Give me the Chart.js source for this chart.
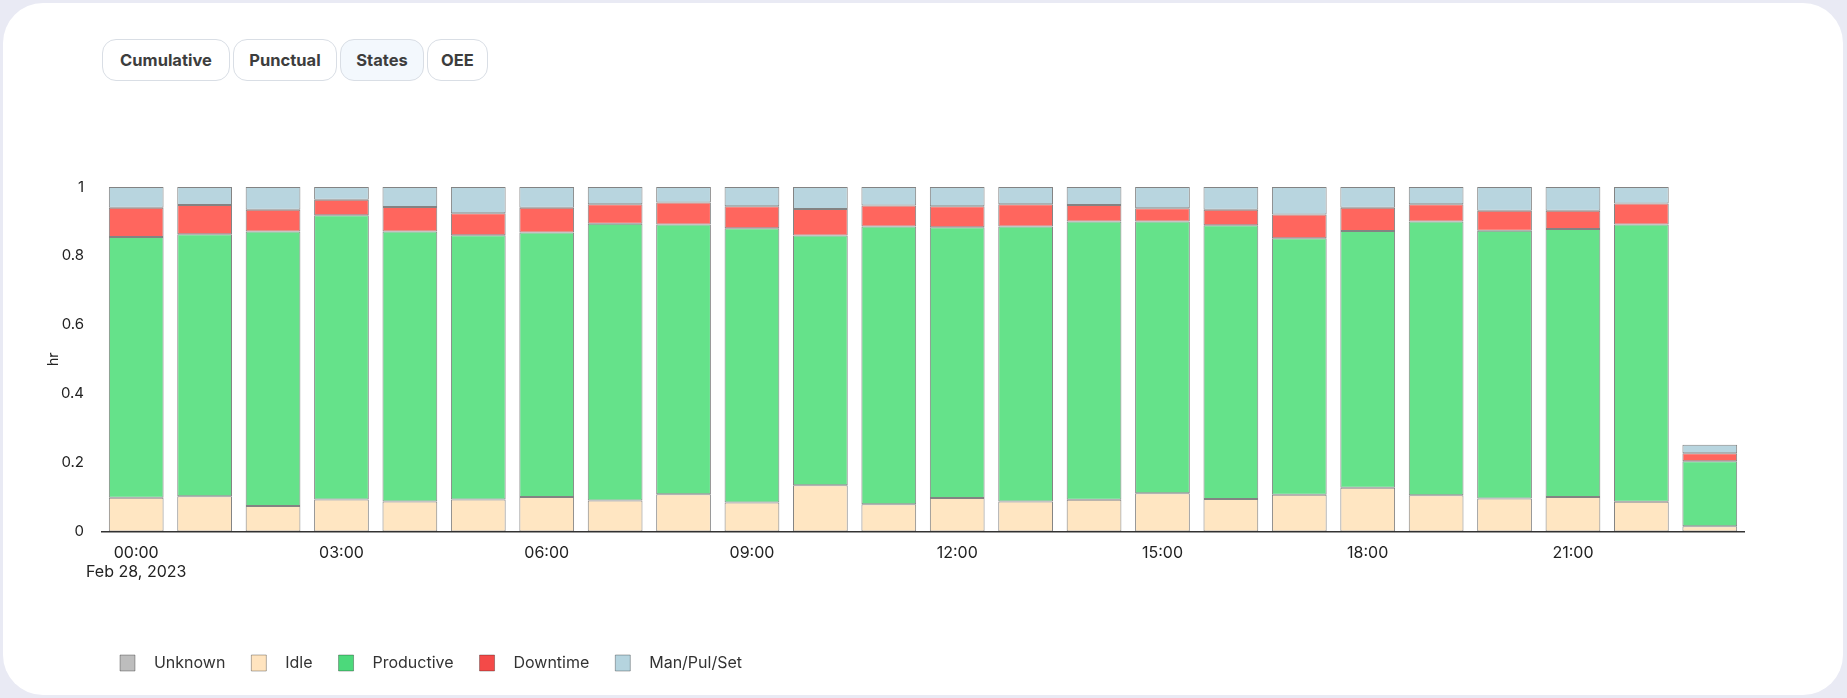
<!DOCTYPE html>
<html>
<head>
<meta charset="utf-8">
<script src="https://cdn.jsdelivr.net/npm/chart.js@4.4.1/dist/chart.umd.min.js"></script>
<style>
    html, body { margin: 0; padding: 0; }
    body {
        width: 1847px; height: 698px; overflow: hidden;
        background: #e9eaf4;
        font-family: Inter, "Open Sans", sans-serif;
        position: relative;
    }
    .card {
        position: absolute; left: 3px; top: 3px; width: 1840px; height: 692px;
        background: #fff; border-radius: 40px;
    }
    .tab {
        position: absolute; top: 39px; height: 42px;
        box-sizing: border-box;
        border: 1px solid #d9dee5; border-radius: 14px;
        background: #fff;
        font: 700 16.5px Inter, sans-serif; color: #3d3d3d;
        display: flex; align-items: center; justify-content: center;
    }
    .tab.active { background: #f3f8fd; }
    #wrap { position: absolute; left: 0; top: 110px; width: 1847px; height: 588px; }
</style>
</head>
<body>
<div class="card"></div>
<div class="tab" style="left:102px;width:128px">Cumulative</div>
<div class="tab" style="left:233px;width:104px">Punctual</div>
<div class="tab active" style="left:340px;width:84px">States</div>
<div class="tab" style="left:427px;width:61px">OEE</div>
<div id="wrap"><canvas id="statesChart"></canvas></div>

<script>
// hourly buckets, Feb 28 2023
const hours = ['00:00', '01:00', '02:00', '03:00', '04:00', '05:00', '06:00', '07:00',
    '08:00', '09:00', '10:00', '11:00', '12:00', '13:00', '14:00', '15:00',
    '16:00', '17:00', '18:00', '19:00', '20:00', '21:00', '22:00', '23:00'];
const dateLabel = 'Feb 28, 2023';
const yTicks = [0, 0.2, 0.4, 0.6, 0.8, 1];

// hours spent in each state (hr)
const unknownHrs = [0, 0, 0, 0, 0, 0, 0, 0, 0, 0, 0, 0, 0, 0, 0, 0, 0, 0, 0, 0, 0, 0, 0, 0];
const idleHrs = [0.098, 0.102, 0.074, 0.093, 0.087, 0.093, 0.100, 0.090, 0.108, 0.084, 0.134, 0.079,
    0.097, 0.087, 0.092, 0.111, 0.094, 0.107, 0.127, 0.105, 0.096, 0.100, 0.086, 0.015];
const productiveHrs = [0.757, 0.761, 0.797, 0.825, 0.784, 0.767, 0.768, 0.803, 0.783, 0.796, 0.725, 0.806,
    0.786, 0.798, 0.808, 0.789, 0.795, 0.744, 0.745, 0.795, 0.777, 0.778, 0.805, 0.189];
const downtimeHrs = [0.085, 0.085, 0.063, 0.045, 0.071, 0.064, 0.072, 0.057, 0.064, 0.064, 0.077, 0.061,
    0.061, 0.065, 0.048, 0.038, 0.045, 0.069, 0.068, 0.050, 0.058, 0.053, 0.061, 0.023];
const manPulSetHrs = [0.060, 0.052, 0.066, 0.037, 0.058, 0.076, 0.060, 0.050, 0.045, 0.056, 0.064, 0.054,
    0.056, 0.050, 0.052, 0.062, 0.066, 0.080, 0.060, 0.050, 0.069, 0.069, 0.048, 0.025];

// legend swatches are a bit more saturated than the bars
const legendColors = ['#bdbdbd', '#ffe4bf', '#4cd97b', '#f44a48', '#b5d4df'];

function stateSet(label, data, color) {
    return {
        label: label,
        data: data,
        backgroundColor: color,
        borderColor: 'rgba(30, 30, 30, 0.55)',
        borderWidth: 1,
        borderSkipped: false,
        categoryPercentage: 0.8,
        barPercentage: 1.0
    };
}

// the legend sits further right than chart.js would put it on its own
const legendShift = {
    id: 'legendShift',
    afterLayout(chart) {
        chart.legend.left += 49;
        chart.legend.right += 49;
    }
};

const ctx = document.getElementById('statesChart').getContext('2d');
new Chart(ctx, {
    type: 'bar',
    data: {
        labels: hours,
        datasets: [
            stateSet('Unknown', unknownHrs, '#c4c4c4'),
            stateSet('Idle', idleHrs, '#ffe6c2'),
            stateSet('Productive', productiveHrs, '#65e28a'),
            stateSet('Downtime', downtimeHrs, '#ff665e'),
            stateSet('Man/Pul/Set', manPulSetHrs, '#b8d5df')
        ]
    },
    plugins: [legendShift],
    options: {
        responsive: true,
        maintainAspectRatio: false,
        animation: false,
        layout: { padding: { left: 45, right: 103, top: 77, bottom: 17 } },
        scales: {
            x: {
                stacked: true,
                grid: { display: false },
                border: { display: true, color: '#333', width: 1.5 },
                afterFit: function(scale) {
                    scale.height = 97.5;
                },
                ticks: {
                    autoSkip: false,
                    maxRotation: 0,
                    padding: 4,
                    color: '#222',
                    font: { family: 'Inter', size: 16 },
                    callback: function(value, index) {
                        if (index === 0) return [hours[0], dateLabel];
                        return index % 3 === 0 ? hours[index] : '';
                    }
                }
            },
            y: {
                stacked: true,
                min: 0,
                max: 1,
                grid: { display: false },
                border: { display: false },
                afterBuildTicks: function(axis) {
                    axis.ticks = yTicks.map(v => ({ value: v }));
                },
                afterFit: function(scale) {
                    scale.width = 57;
                },
                ticks: {
                    padding: 10,
                    color: '#222',
                    font: { family: 'Inter', size: 15 },
                    callback: value => String(value)
                },
                title: {
                    display: true,
                    text: 'hr',
                    color: '#222',
                    font: { family: 'Inter', size: 14 },
                    padding: { top: 0, bottom: 10 }
                }
            }
        },
        plugins: {
            tooltip: { enabled: false },
            legend: {
                position: 'bottom',
                align: 'start',
                labels: {
                    boxWidth: 15,
                    boxHeight: 16,
                    padding: 26,
                    color: '#333',
                    font: { family: 'Inter', size: 16 },
                    generateLabels: function(chart) {
                        return chart.data.datasets.map((ds, i) => ({
                            text: '\u2002\u2009' + ds.label,
                            fillStyle: legendColors[i],
                            strokeStyle: 'rgba(0, 0, 0, 0.3)',
                            lineWidth: 1,
                            fontColor: '#333',
                            hidden: false,
                            datasetIndex: i
                        }));
                    }
                }
            }
        }
    }
});
</script>
</body>
</html>
